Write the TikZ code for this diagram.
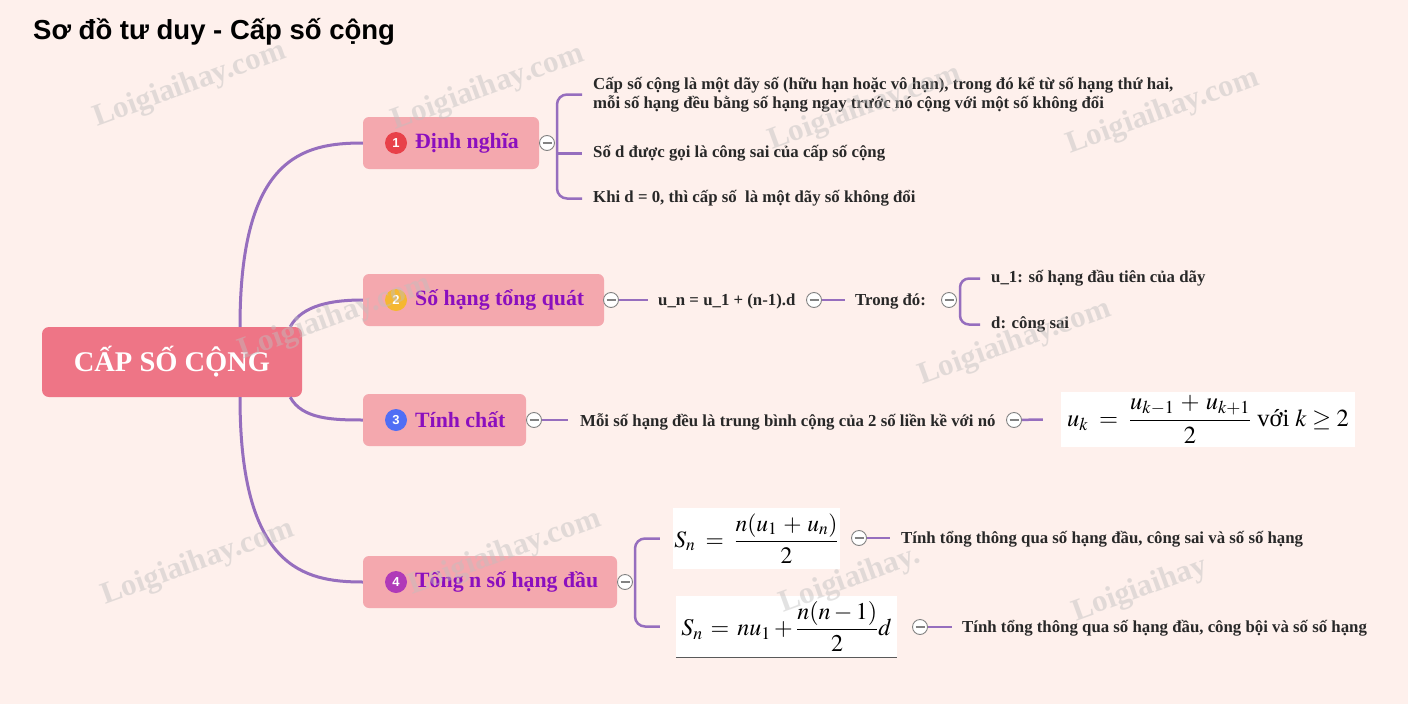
\documentclass[tikz,border=0pt]{standalone}
\usepackage{mathptmx}
\usepackage[no-math]{fontspec}
\setmainfont{Liberation Serif}
\newfontfamily\titlefont{Liberation Sans}
\usetikzlibrary{calc}
\definecolor{bg}{RGB}{254,240,236}
\definecolor{rootfill}{RGB}{238,117,134}
\definecolor{brfill}{RGB}{244,168,174}
\definecolor{brtext}{RGB}{139,15,190}
\definecolor{lnk}{RGB}{150,110,190}
\definecolor{txt}{RGB}{40,40,40}
\definecolor{bad1}{RGB}{232,65,74}
\definecolor{bad2}{RGB}{245,183,49}
\definecolor{bad3}{RGB}{80,110,245}
\definecolor{bad4}{RGB}{176,58,184}
\definecolor{ring}{RGB}{130,130,130}
\tikzset{
 rootbox/.style={fill=rootfill, rounded corners=7pt, minimum width=260pt, minimum height=70pt, text=white, font=\bfseries\fontsize{28.5}{32}\selectfont, inner sep=0},
 branch/.style={fill=brfill, rounded corners=6pt, minimum height=52pt, inner sep=0},
 badge/.style={circle, minimum size=22pt, inner sep=0, text=white, font=\titlefont\bfseries\fontsize{13}{13}\selectfont},
 blabel/.style={anchor=west, inner sep=0, text=brtext, font=\bfseries\fontsize{21.8}{26}\selectfont},
 leaf/.style={anchor=west, inner sep=0, yshift=-1.5pt, text=txt, font=\bfseries\fontsize{16.8}{19}\selectfont, align=left},
 collapse/.style={circle, draw=ring, fill=white, minimum size=15pt, inner sep=0, line width=0.9pt,
   path picture={\draw[line width=1.1pt, ring] ([xshift=3pt]path picture bounding box.west) -- ([xshift=-3pt]path picture bounding box.east);}},
 link/.style={draw=lnk, line width=2.5pt},
 trunk/.style={draw=lnk, line width=3pt},
 fbox/.style={fill=white, inner sep=0},
 wm/.style={text=gray!50, opacity=0.45, rotate=20, font=\bfseries\fontsize{31}{31}\selectfont, inner sep=0}
}
\begin{document}
\begin{tikzpicture}[x=1pt,y=-1pt]
\fill[bg] (0,0) rectangle (1408,704);
\useasboundingbox (0,0) rectangle (1408,704);

\node[anchor=west, inner sep=0, font=\titlefont\bfseries\fontsize{27.5}{30}\selectfont] (title) at (33,31.5) {Sơ đồ tư duy - Cấp số cộng};

\node[rootbox] (root) at (172,362) {CẤP SỐ CỘNG};

% branches
\node[branch, minimum width=176pt] (n1) at (451,143) {};
\node[badge, fill=bad1] (b1) at (396,143) {1};
\node[blabel] (t1) at (415,143) {Định nghĩa};

\node[branch, minimum width=241pt] (n2) at (483.5,300) {};
\node[badge, fill=bad2] (b2) at (396,300) {2};
\node[blabel] (t2) at (415,300) {Số hạng tổng quát};

\node[branch, minimum width=163pt] (n3) at (444.5,420) {};
\node[badge, fill=bad3] (b3) at (396,420) {3};
\node[blabel] (t3) at (415,420) {Tính chất};

\node[branch, minimum width=254pt] (n4) at (490,582) {};
\node[badge, fill=bad4] (b4) at (396,582) {4};
\node[blabel] (t4) at (415,582) {Tổng n số hạng đầu};

% trunk curves
\draw[trunk] ($(root.north)+(68pt,0)$) .. controls +(0,-170) and +(-60,0) .. (n1.west);
\draw[trunk] ($(root.south)+(68pt,0)$) .. controls +(0,170) and +(-60,0) .. (n4.west);
\draw[trunk] ($(root.north east)+(-12pt,0)$) .. controls +(12,-22) and +(-30,0) .. (n2.west);
\draw[trunk] ($(root.south east)+(-12pt,0)$) .. controls +(12,22) and +(-30,0) .. (n3.west);

% leaves
\node[leaf] (d1) at (593,93) {Cấp số cộng là một dãy số (hữu hạn hoặc vô hạn), trong đó kể từ số hạng thứ hai,\\mỗi số hạng đều bằng số hạng ngay trước nó cộng với một số không đổi};
\node[leaf] (d2) at (593,152) {Số d được gọi là công sai của cấp số cộng};
\node[leaf] (d3) at (593,197) {Khi d = 0, thì cấp số\ \ là một dãy số không đổi};

\node[leaf] (f2) at (658,300) {u\_n = u\_1 + (n-1).d};
\node[leaf] (tr) at (855,300) {Trong đó:};
\node[leaf] (g1) at (991,277) {u\_1: số hạng đầu tiên của dãy};
\node[leaf] (g2) at (991,323) {d: công sai};

\node[leaf] (p3) at (580,420) {Mỗi số hạng đều là trung bình cộng của 2 số liền kề với nó};
\node[fbox, minimum width=294pt, minimum height=55pt, font=\fontsize{24.5}{28}\selectfont] (f3) at (1208,419.5) {$\displaystyle u_k \;=\; \frac{u_{k-1}\,+\,u_{k+1}}{2}$ với $k \ge 2$};

\node[fbox, minimum width=167pt, minimum height=61pt, font=\fontsize{23.5}{28}\selectfont] (f4a) at (756.5,538.5) {$\displaystyle S_n \;=\; \frac{n(u_1\,+\,u_n)}{2}$};
\node[fbox, minimum width=221pt, minimum height=61pt, font=\fontsize{24}{28}\selectfont] (f4b) at (786.5,626.5) {$\displaystyle S_n \,=\, nu_1 + \frac{n(n-1)}{2}d$};
\draw[gray!70!black, line width=1.2pt] (f4b.south west) -- (f4b.south east);
\node[leaf] (q1) at (901,538) {Tính tổng thông qua số hạng đầu, công sai và số số hạng};
\node[leaf] (q2) at (962,627) {Tính tổng thông qua số hạng đầu, công bội và số số hạng};

% collapse markers positions
\coordinate (pc1) at (547,143);
\coordinate (pc2) at (611,300);
\coordinate (pc2b) at (814,300);
\coordinate (pc2c) at (949,300);
\coordinate (pc3) at (534,420);
\coordinate (pc3b) at (1014,420);
\coordinate (pc4) at (625,582);
\coordinate (pc4a) at (859,538);
\coordinate (pc4b) at (920,627);

% brackets
\coordinate (s1) at ($(pc1)+(10pt,0)$);
\draw[link, rounded corners=10pt] ($(d1.west)+(-11pt,0)$) -| (s1) |- ($(d3.west)+(-11pt,0)$);
\draw[link] (s1 |- d2.west) -- ($(d2.west)+(-11pt,0)$);

\coordinate (s2) at ($(pc2c)+(11pt,0)$);
\draw[link, rounded corners=9pt] ($(g1.west)+(-11pt,0)$) -| (s2) |- ($(g2.west)+(-11pt,0)$);

\coordinate (s4) at ($(pc4)+(10pt,0)$);
\draw[link, rounded corners=10pt] ($(f4a.west)+(-13pt,0)$) -| (s4) |- ($(f4b.west)+(-16pt,0)$);

% straight links
\draw[link] (pc2) -- ($(f2.west |- pc2)+(-10pt,0)$);
\draw[link] (pc2b) -- ($(tr.west |- pc2b)+(-10pt,0)$);
\draw[link] (pc3) -- ($(p3.west |- pc3)+(-12pt,0)$);
\draw[link] (pc3b) -- ($(f3.west)+(-18pt,0)$);
\draw[link] (pc4a) -- ($(q1.west |- pc4a)+(-11pt,0)$);
\draw[link] (pc4b) -- ($(q2.west |- pc4b)+(-10pt,0)$);

% collapse markers
\foreach \c in {pc1,pc2,pc2b,pc2c,pc3,pc3b,pc4,pc4a,pc4b}
  \node[collapse] (m\c) at (\c) {};

% watermarks
\node[wm] (w1) at (190,85) {Loigiaihay.com};
\node[wm] (w2) at (488,88) {Loigiaihay.com};
\node[wm] (w3) at (865,108) {Loigiaihay.com};
\node[wm] (w4) at (1163,112) {Loigiaihay.com};
\node[wm] (w5) at (335,318) {Loigiaihay.com};
\node[wm] (w6) at (1015,343) {Loigiaihay.com};
\node[wm] (w7) at (198,563) {Loigiaihay.com};
\node[wm] (w8) at (505,553) {Loigiaihay.com};
\node[wm] (w9) at (850,580) {Loigiaihay.};
\node[wm] (w10) at (1140,590) {Loigiaihay};
\end{tikzpicture}
\end{document}
